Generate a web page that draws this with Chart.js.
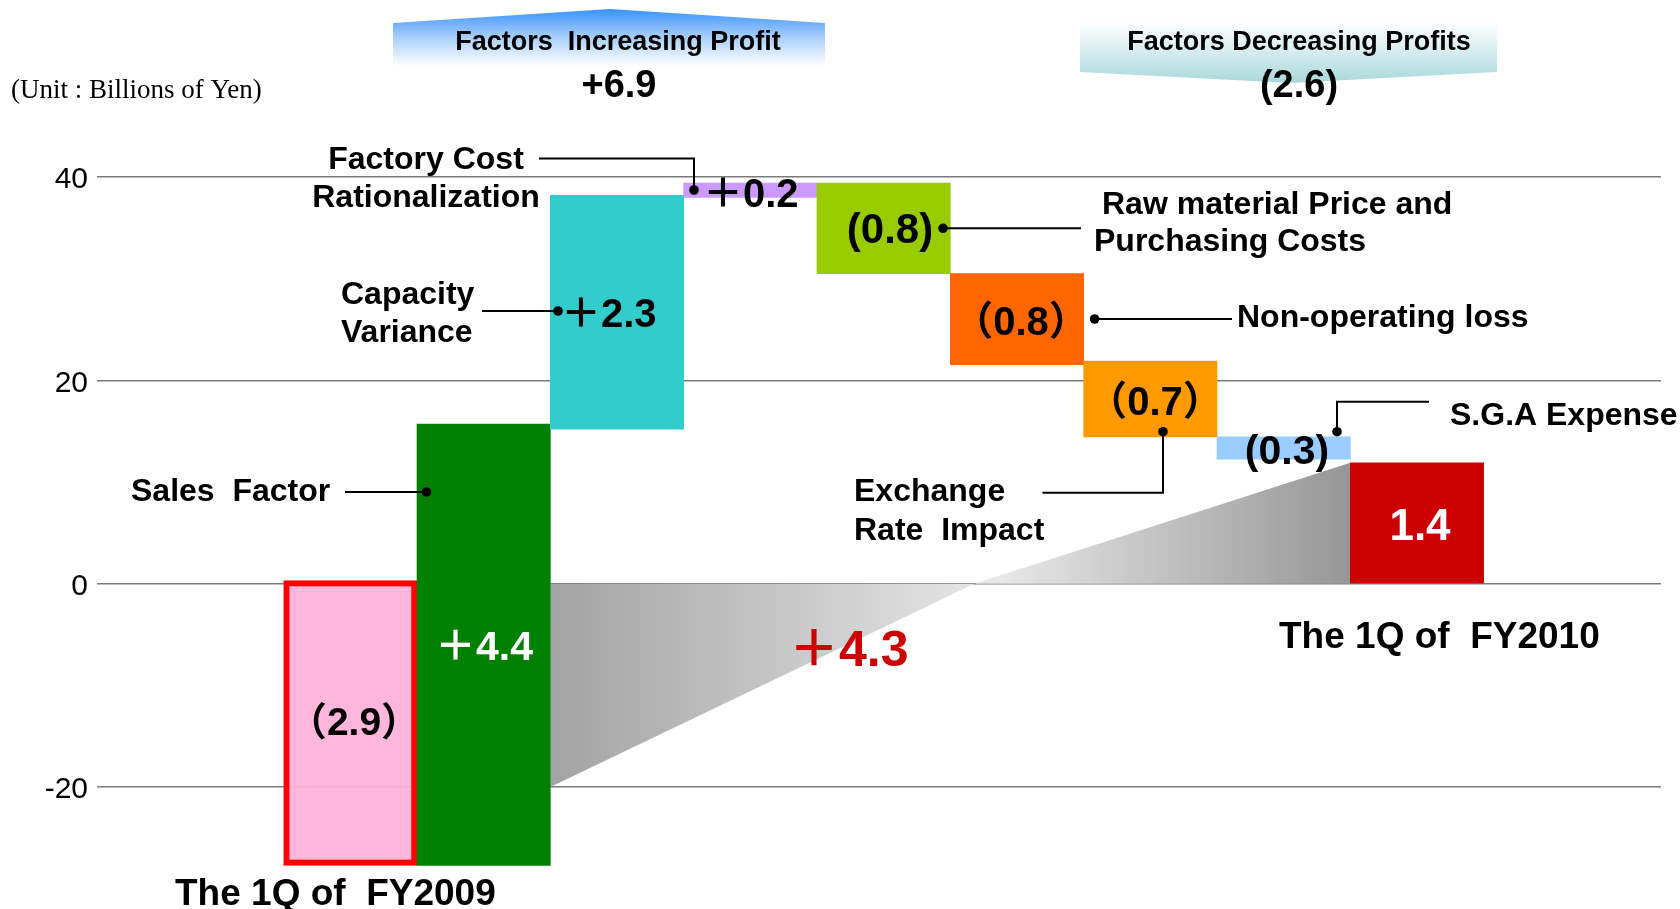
<!DOCTYPE html>
<html>
<head>
<meta charset="utf-8">
<script src="https://cdn.jsdelivr.net/npm/chart.js@4.4.1/dist/chart.umd.min.js"></script>
<style>
  html, body { margin: 0; padding: 0; background: #ffffff; }
  #wrap { width: 1680px; height: 909px; position: relative; }
</style>
</head>
<body>
<div id="wrap"><canvas id="c"></canvas></div>
<script>
// ---------------- data ----------------
const categories = ['The 1Q of FY2009', 'Sales Factor', 'Capacity Variance', 'Factory Cost Rationalization',
  'Raw material Price and Purchasing Costs', 'Non-operating loss', 'Exchange Rate Impact', 'S.G.A Expense', 'The 1Q of FY2010'];
const barSlots = [1, 2, 3, 4, 5, 6, 7, 8, 9];
const barStart = [0.3, -27.7, 15.2, 38.0, 39.4, 30.5, 21.9, 14.45, 0];
const barEnd   = [-27.7, 15.7, 38.2, 39.4, 30.5, 21.55, 14.45, 12.25, 11.9];
const valueLabels = ['（2.9）', '＋4.4', '＋2.3', '＋0.2', '(0.8)', '（0.8）', '（0.7）', '(0.3)', '1.4'];
const yTickValues = [40, 20, 0, -20];
const bridgeX = [2.5, 5.68, 8.5];
const bridgeY = [-20, 0, 11.9];
const increaseTotal = '+6.9';
const decreaseTotal = '(2.6)';
const netChange = '＋4.3';

// ---------------- styles ----------------
const FONT = "'Liberation Sans', Arial, 'Noto Sans CJK JP', sans-serif";
const barColors = ['rgba(255,176,216,0.92)', '#008000', '#33cccc', '#cc99ff', '#99cc00', '#ff6600', '#ff9900', '#99ccff', '#cc0000'];
const barBorderColors = ['#ff0000', '#008000', '#33cccc', '#cc99ff', '#99cc00', '#ff6600', '#ff9900', '#99ccff', '#cc0000'];
const barBorderWidths = [6, 0, 0, 0, 0, 0, 0, 0, 0];

function bridgeFill(context) {
  const chart = context.chart;
  const xs = chart.scales && chart.scales.x;
  if (!chart.chartArea || !xs) return '#cccccc';
  const x0 = xs.getPixelForValue(bridgeX[0]);
  const x1 = xs.getPixelForValue(bridgeX[bridgeX.length - 1]);
  const g = chart.ctx.createLinearGradient(x0, 0, x1, 0);
  g.addColorStop(0, '#a3a3a3');
  g.addColorStop(0.56, '#e8e8e8');
  g.addColorStop(1, '#969696');
  return g;
}

function text(ctx, s, x, y, size, o) {
  o = o || {};
  ctx.save();
  ctx.font = (o.weight || 'bold') + ' ' + size + 'px ' + (o.family || FONT);
  ctx.fillStyle = o.color || '#000000';
  ctx.textAlign = o.align || 'left';
  ctx.textBaseline = 'alphabetic';
  ctx.fillText(s, x, y);
  ctx.restore();
}
function leader(ctx, pts, dotFirst) {
  ctx.save();
  ctx.strokeStyle = '#000000';
  ctx.lineWidth = 2;
  ctx.beginPath();
  ctx.moveTo(pts[0][0], pts[0][1]);
  for (let i = 1; i < pts.length; i++) ctx.lineTo(pts[i][0], pts[i][1]);
  ctx.stroke();
  const d = dotFirst ? pts[0] : pts[pts.length - 1];
  ctx.fillStyle = '#000000';
  ctx.beginPath();
  ctx.arc(d[0], d[1], 4.8, 0, Math.PI * 2);
  ctx.fill();
  ctx.restore();
}

const annotations = {
  id: 'annotations',
  afterDraw(chart) {
    const ctx = chart.ctx;
    // unit label
    text(ctx, '(Unit : Billions of Yen)', 11, 98, 27, { weight: 'normal', family: "'Liberation Serif', 'Times New Roman', serif" });

    // left banner (increasing)
    ctx.save();
    let g = ctx.createLinearGradient(0, 9, 0, 66);
    g.addColorStop(0, '#3a92fb');
    g.addColorStop(0.5, '#a9cffb');
    g.addColorStop(1, '#ffffff');
    ctx.fillStyle = g;
    ctx.beginPath();
    ctx.moveTo(393, 23); ctx.lineTo(610, 9); ctx.lineTo(825, 23); ctx.lineTo(825, 66); ctx.lineTo(393, 66); ctx.closePath();
    ctx.fill();
    // right banner (decreasing)
    g = ctx.createLinearGradient(0, 22, 0, 83);
    g.addColorStop(0, '#ffffff');
    g.addColorStop(1, '#aad8db');
    ctx.fillStyle = g;
    ctx.beginPath();
    ctx.moveTo(1080, 20); ctx.lineTo(1497, 20); ctx.lineTo(1497, 72); ctx.lineTo(1290, 83); ctx.lineTo(1080, 72); ctx.closePath();
    ctx.fill();
    ctx.restore();

    text(ctx, 'Factors  Increasing Profit', 618, 50, 27, { align: 'center' });
    text(ctx, increaseTotal, 619, 97, 38, { align: 'center' });
    text(ctx, 'Factors Decreasing Profits', 1299, 50, 27, { align: 'center' });
    text(ctx, decreaseTotal, 1299, 97, 38, { align: 'center' });

    // category callouts
    text(ctx, 'Factory Cost', 426, 168.5, 32, { align: 'center' });
    text(ctx, 'Rationalization', 426, 206.5, 32, { align: 'center' });
    leader(ctx, [[539, 158.5], [694, 158.5], [694, 190]]);

    text(ctx, 'Capacity', 341, 304, 32);
    text(ctx, 'Variance', 341, 342, 32);
    leader(ctx, [[482, 311], [558, 311]]);

    text(ctx, 'Sales  Factor', 131, 501, 32);
    leader(ctx, [[345, 492], [426.5, 492]]);

    text(ctx, 'Raw material Price and', 1102, 213.5, 32);
    text(ctx, 'Purchasing Costs', 1094, 251, 32);
    leader(ctx, [[943, 228.3], [1081, 228.3]], true);

    text(ctx, 'Non-operating loss', 1237, 327, 32);
    leader(ctx, [[1094.6, 319], [1232, 319]], true);

    text(ctx, 'Exchange', 854, 501, 32);
    text(ctx, 'Rate  Impact', 854, 539.5, 32);
    leader(ctx, [[1163, 431.7], [1163, 492.7], [1042.5, 492.7]], true);

    text(ctx, 'S.G.A Expense', 1450, 425, 32);
    leader(ctx, [[1337, 431.7], [1337, 401.7], [1429, 401.7]], true);

    // values on bars
    text(ctx, valueLabels[0], 354, 735, 39, { align: 'center' });
    text(ctx, valueLabels[1], 435, 660, 41, { color: '#ffffff' });
    text(ctx, valueLabels[2], 561, 327, 40);
    text(ctx, valueLabels[3], 703, 206.5, 40);
    text(ctx, valueLabels[4], 890, 243, 42, { align: 'center' });
    text(ctx, valueLabels[5], 1021, 335, 40, { align: 'center' });
    text(ctx, valueLabels[6], 1155, 415, 40, { align: 'center' });
    text(ctx, valueLabels[7], 1287, 464, 41, { align: 'center' });
    text(ctx, valueLabels[8], 1420, 540, 44, { align: 'center', color: '#ffffff' });
    text(ctx, netChange, 789, 666, 50, { color: '#cc0000' });

    // period labels
    text(ctx, 'The 1Q of  FY2009', 175, 905, 37);
    text(ctx, 'The 1Q of  FY2010', 1279, 648, 37);
  }
};

new Chart(document.getElementById('c'), {
  type: 'bar',
  data: {
    labels: categories,
    datasets: [
      {
        type: 'bar',
        label: 'Operating income bridge',
        data: barSlots.map((x, i) => ({ x: x, y: [barStart[i], barEnd[i]] })),
        backgroundColor: barColors,
        borderColor: barBorderColors,
        borderWidth: barBorderWidths,
        borderSkipped: false,
        barPercentage: 1,
        categoryPercentage: 1,
        order: 1
      },
      {
        type: 'line',
        label: 'Change',
        data: bridgeX.map((x, i) => ({ x: x, y: bridgeY[i] })),
        fill: 'origin',
        borderWidth: 0,
        borderColor: 'rgba(0,0,0,0)',
        pointRadius: 0,
        tension: 0,
        backgroundColor: bridgeFill,
        order: 2
      }
    ]
  },
  options: {
    responsive: true,
    maintainAspectRatio: false,
    animation: false,
    layout: { padding: { left: 0, right: 19, top: 136.4, bottom: 20.3 } },
    plugins: { legend: { display: false }, tooltip: { enabled: false } },
    scales: {
      x: {
        type: 'linear', display: false, min: -0.9, max: 10.83, offset: false,
        afterBuildTicks: (s) => { s.ticks = barSlots.map(v => ({ value: v })); }
      },
      y: {
        min: -30, max: 44,
        border: { display: false },
        grid: { color: '#7a7a7a', lineWidth: 1.5, drawTicks: false },
        ticks: { font: { family: FONT, size: 30 }, color: '#000000', padding: 9, labelOffset: 3 },
        afterBuildTicks: (s) => { s.ticks = yTickValues.map(v => ({ value: v })); },
        afterFit: (s) => { s.width = 97; s.paddingTop = 0; s.paddingBottom = 0; }
      }
    }
  },
  plugins: [annotations]
});
</script>
</body>
</html>
